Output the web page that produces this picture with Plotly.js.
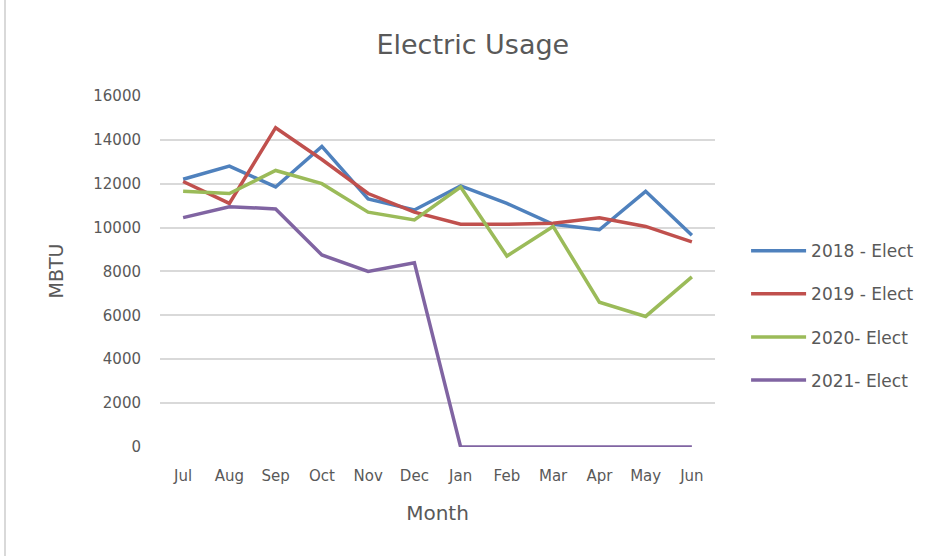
<!DOCTYPE html>
<html>
<head>
<meta charset="utf-8">
<script src="https://cdn.plot.ly/plotly-3.0.1.min.js"></script>
<style>
  html, body { margin: 0; padding: 0; background: #fff; }
  #wrap { position: relative; width: 940px; height: 560px; }
  #chart { width: 940px; height: 560px; }
  #edge { position: absolute; left: 4px; top: 0; width: 0; height: 556px; border-left: 2px solid #d9d9d9; }
</style>
</head>
<body>
<div id="wrap"><div id="chart"></div><div id="edge"></div></div>
<script>
const months = ["Jul","Aug","Sep","Oct","Nov","Dec","Jan","Feb","Mar","Apr","May","Jun"];
const seriesNames = ["2018 - Elect","2019 - Elect","2020- Elect","2021- Elect"];
const elect2018 = [12200,12800,11850,13700,11300,10800,11900,11100,10150,9900,11650,9650];
const elect2019 = [12100,11100,14550,13100,11550,10700,10150,10150,10200,10450,10050,9350];
const elect2020 = [11650,11550,12600,12000,10700,10350,11850,8700,10050,6600,5950,7750];
const elect2021 = [10450,10950,10850,8750,8000,8400,0,0,0,0,0,0];
const colors = ["#4F81BD","#C0504D","#9BBB59","#8064A2"];

const allValues = [elect2018, elect2019, elect2020, elect2021];
const traces = allValues.map((vals, i) => ({
  type: "scatter",
  mode: "lines",
  x: months,
  y: vals,
  name: seriesNames[i],
  legendgroup: "g" + i,
  line: { color: colors[i], width: 3.5 }
}));

const fontFam = "DejaVu Sans, Verdana, sans-serif";
const layout = {
  width: 940, height: 560,
  margin: { l: 160, r: 225, t: 95, b: 113 },
  paper_bgcolor: "#fff", plot_bgcolor: "#fff",
  font: { family: fontFam, color: "#595959", size: 15 },
  title: { text: "Electric Usage", x: 0.503, xanchor: "center", y: 0.92, yanchor: "middle",
           font: { family: fontFam, size: 27, color: "#595959" } },
  xaxis: {
    type: "category",
    range: [-0.5, 11.5],
    showgrid: false, zeroline: false, showline: false,
    ticks: "outside", ticklen: 15, tickcolor: "rgba(0,0,0,0)",
    tickfont: { size: 15, color: "#595959" },
    title: { text: "Month", font: { size: 20, color: "#595959" }, standoff: 21 }
  },
  yaxis: {
    range: [0, 16040],
    dtick: 2000,
    tickformat: "d",
    showgrid: true, gridcolor: "#d9d9d9", gridwidth: 2,
    zeroline: false, showline: false,
    ticks: "outside", ticklen: 15, tickcolor: "rgba(0,0,0,0)",
    tickfont: { size: 15, color: "#595959" },
    title: { text: "MBTU", font: { size: 19, color: "#595959" }, standoff: 24 }
  },
  legend: {
    x: 1.056, y: 0.373, xanchor: "left", yanchor: "middle",
    traceorder: "grouped", tracegroupgap: 18,
    itemwidth: 55,
    font: { size: 17, color: "#595959" },
    bgcolor: "rgba(0,0,0,0)"
  },
  showlegend: true
};

Plotly.newPlot("chart", traces, layout, { displayModeBar: false, staticPlot: true });
</script>
</body>
</html>
